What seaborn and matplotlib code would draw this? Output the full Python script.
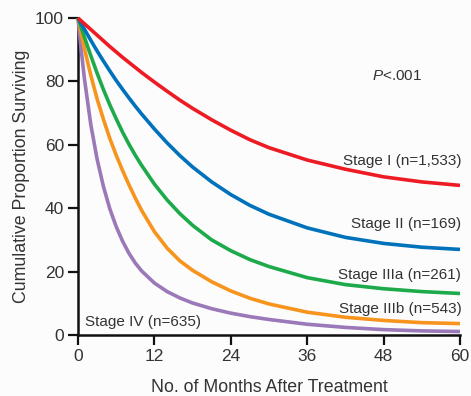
import matplotlib
matplotlib.use("Agg")
import matplotlib.pyplot as plt
import seaborn as sns
import pandas as pd

# Follow-up times (months) at which survival was read
months = [0, 0.5, 1, 2, 3, 4, 5, 6, 7, 8, 9, 10, 12, 14, 16, 18, 21, 24, 27, 30, 36, 42, 48, 54, 60]

# Cumulative proportion surviving (%) for each stage
stage_i    = [100, 99.1, 98.2, 96.4, 94.6, 92.8, 91.0, 89.3, 87.6, 86.0, 84.4, 82.8, 79.8, 76.9, 74.1, 71.5, 67.9, 64.6, 61.6, 59.1, 55.2, 52.3, 49.9, 48.3, 47.2]
stage_ii   = [100, 98.2, 96.5, 93.0, 89.6, 86.4, 83.3, 80.3, 77.5, 74.8, 72.2, 69.7, 65.0, 60.6, 56.6, 53.0, 48.3, 44.3, 40.9, 38.1, 33.8, 30.8, 28.9, 27.7, 27.0]
stage_iiia = [100, 97.0, 94.0, 88.2, 82.6, 77.4, 72.6, 68.2, 64.0, 60.2, 56.7, 53.5, 47.6, 42.6, 38.3, 34.6, 30.0, 26.6, 23.8, 21.6, 18.1, 15.9, 14.6, 13.7, 13.1]
stage_iiib = [100, 95.1, 90.5, 82.0, 74.5, 68.0, 62.0, 56.7, 51.9, 47.4, 43.2, 39.3, 32.6, 27.4, 23.4, 20.4, 16.8, 13.9, 11.6, 9.8, 7.2, 5.6, 4.6, 3.9, 3.6]
stage_iv   = [100, 90.0, 81.0, 66.5, 55.5, 46.8, 39.8, 34.2, 29.6, 25.8, 22.7, 20.2, 16.4, 13.7, 11.7, 10.1, 8.3, 6.9, 5.8, 4.9, 3.4, 2.4, 1.7, 1.3, 1.1]

stages = ["Stage I", "Stage II", "Stage IIIa", "Stage IIIb", "Stage IV"]
counts = ["1,533", "169", "261", "543", "635"]
series = [stage_i, stage_ii, stage_iiia, stage_iiib, stage_iv]
colors = ["#ED1C24", "#0072BC", "#1DAA4A", "#F7941D", "#9B78B8"]

df = pd.concat(
    [pd.DataFrame({"month": months, "surv": vals, "stage": name})
     for name, vals in zip(stages, series)],
    ignore_index=True,
)

sns.set_style("ticks")
plt.rcParams["font.family"] = ["Liberation Sans", "DejaVu Sans"]
plt.rcParams["mathtext.fontset"] = "custom"
plt.rcParams["mathtext.rm"] = "Liberation Sans"
plt.rcParams["mathtext.it"] = "Liberation Sans:italic"

fig = plt.figure(figsize=(4.71, 3.96), dpi=100, facecolor="#fcfcfc")
ax = fig.add_axes([0.1656, 0.154, 0.811, 0.8005])
ax.set_facecolor("#fcfcfc")

# draw stage IV first so the better-surviving curves sit on top
order = stages[::-1]
sns.lineplot(data=df, x="month", y="surv", hue="stage", hue_order=order,
             palette=dict(zip(stages, colors)), legend=False,
             linewidth=2.6, ax=ax, zorder=3)
for ln in ax.get_lines():
    ln.set_solid_capstyle("butt")
    ln.set_solid_joinstyle("round")
    ln.set_clip_on(False)

ax.set_xlim(0, 60)
ax.set_ylim(0, 100)
ax.set_xticks([0, 12, 24, 36, 48, 60])
ax.set_yticks([0, 20, 40, 60, 80, 100])
sns.despine(ax=ax)
for s in ("left", "bottom"):
    ax.spines[s].set_linewidth(1.8)
    ax.spines[s].set_color("#111111")
ax.tick_params(axis="both", length=7, width=1.6, color="#111111",
               labelsize=12.5, labelcolor="#333333", pad=3)

ax.set_xlabel("No. of Months After Treatment", fontsize=12.8, color="#333333", labelpad=11)
ax.set_ylabel("Cumulative Proportion Surviving", fontsize=12.8, color="#333333", labelpad=4)

# curve labels
label_pos = [(60.2, 54.8, "right"), (60.2, 34.9, "right"), (60.2, 18.8, "right"),
             (60.2, 8.3, "right"), (1.1, 4.0, "left")]
for name, n, (x, y, ha) in zip(stages, counts, label_pos):
    ax.text(x, y, f"{name} (n={n})", ha=ha, va="center", fontsize=11, color="#333333")

ax.text(50.1, 81.7, "$P$<.001", ha="center", va="center", fontsize=11, color="#333333")

fig.savefig("out.png", dpi=100, facecolor=fig.get_facecolor())
